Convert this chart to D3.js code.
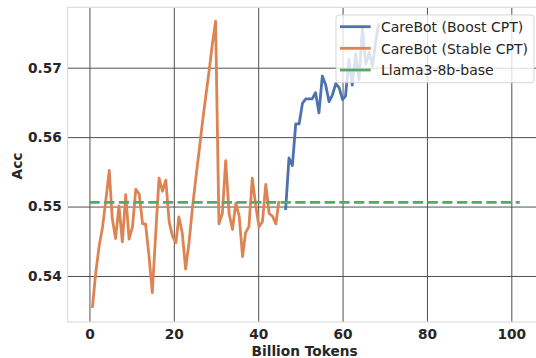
<!DOCTYPE html>
<html><head><meta charset="utf-8">
<script src="https://cdn.jsdelivr.net/npm/d3@7"></script>
<style>
body{margin:0;background:#fff}
svg{display:block}
text{font-family:"DejaVu Sans",sans-serif}
</style>
</head><body>
<svg id="chart" width="536" height="358"></svg>
<script>
// ---- data ----
const stableTokens = [0.7,1.5,2.3,3.1,3.9,4.7,5.4,6.2,7.0,7.8,8.6,9.4,10.2,11.0,11.8,12.6,13.3,14.1,14.9,15.7,16.5,17.3,18.1,18.9,19.7,20.5,21.2,22.0,22.8,23.6,24.4,25.2,26.0,26.8,27.6,28.4,29.1,29.9,30.7,31.5,32.3,33.1,33.9,34.7,35.5,36.3,37.0,37.8,38.6,39.4,40.2,41.0,41.8,42.6,43.4,44.2,44.9];
const stableAcc = [0.5354,0.5405,0.5443,0.5470,0.5510,0.5552,0.5483,0.5454,0.5501,0.5449,0.5517,0.5453,0.5471,0.5525,0.5518,0.5475,0.5475,0.5430,0.5376,0.5460,0.5541,0.5522,0.5538,0.5478,0.5457,0.5448,0.5485,0.5462,0.5410,0.5448,0.5497,0.5540,0.5580,0.5622,0.5660,0.5697,0.5732,0.5767,0.5475,0.5490,0.5566,0.5490,0.5467,0.5505,0.5486,0.5428,0.5462,0.5471,0.5541,0.5502,0.5471,0.5478,0.5532,0.5490,0.5486,0.5475,0.5508];
const boostTokens = [46.5,47.3,48.1,48.9,49.7,50.5,51.3,52.1,52.8,53.6,54.4,55.2,56.0,56.8,57.6,58.4,59.2,60.0,60.7,61.5,62.3,63.1,63.9,64.7,65.5,66.3,67.1,67.9,68.6];
const boostAcc = [0.5495,0.5570,0.5559,0.5619,0.5619,0.5649,0.5655,0.5655,0.5655,0.5664,0.5635,0.5688,0.5675,0.5651,0.5661,0.5677,0.5671,0.5654,0.5659,0.5712,0.5675,0.5720,0.5683,0.5757,0.5705,0.5722,0.5702,0.5740,0.5764];
const baseTokens = [0, 102];
const baseAcc = [0.5506, 0.5506];
const seriesNames = ["CareBot (Boost CPT)", "CareBot (Stable CPT)", "Llama3-8b-base"];
const seriesColors = ["#4C72B0", "#DD8452", "#55A868"];
const xTicks = [0, 20, 40, 60, 80, 100];
const yTicks = [0.54, 0.55, 0.56, 0.57];
const xTitle = "Billion Tokens";
const yTitle = "Acc";

// ---- layout ----
const L = 67.5, R = 541.7, T = 7.3, B = 322;
const svg = d3.select("#chart");
const x = d3.scaleLinear().domain([-5.2, 107.2]).range([L, R]);
const y = d3.scaleLinear().domain([0.53337, 0.5787]).range([B, T]);
const txt = "#262626";
const fs = 13.7;

// gridlines + tick labels
const gx = svg.append("g").attr("transform", `translate(0,${B})`)
  .call(d3.axisBottom(x).tickValues(xTicks).tickFormat(d3.format("d")).tickSize(-(B - T)).tickPadding(7.6));
const gy = svg.append("g").attr("transform", `translate(${L},0)`)
  .call(d3.axisLeft(y).tickValues(yTicks).tickFormat(d3.format(".2f")).tickSize(-(R - L)).tickPadding(5.8));
[gx, gy].forEach(g => {
  g.select(".domain").remove();
  g.selectAll(".tick line").attr("stroke", "#505050").attr("stroke-width", 1);
  g.selectAll(".tick text").attr("fill", txt).attr("font-size", fs).attr("font-weight", "bold")
    .attr("font-family", '"DejaVu Sans",sans-serif');
});

// frame
svg.append("rect").attr("x", L).attr("y", T).attr("width", R - L).attr("height", B - T)
  .attr("fill", "none").attr("stroke", "#dddddd").attr("stroke-width", 1.2);

const line = d3.line().x(d => x(d[0])).y(d => y(d[1]));
const lw = 2.8;
svg.append("path").datum(boostTokens.map((t, i) => [t, boostAcc[i]]))
  .attr("d", line).attr("fill", "none").attr("stroke", seriesColors[0]).attr("stroke-width", lw).attr("stroke-linejoin", "round");
svg.append("path").datum(stableTokens.map((t, i) => [t, stableAcc[i]]))
  .attr("d", line).attr("fill", "none").attr("stroke", seriesColors[1]).attr("stroke-width", lw).attr("stroke-linejoin", "round");
svg.append("path").datum(baseTokens.map((t, i) => [t, baseAcc[i]]))
  .attr("d", line).attr("fill", "none").attr("stroke", seriesColors[2]).attr("stroke-width", lw).attr("stroke-dasharray", "10.3,4.4");

// axis titles
svg.append("text").attr("x", (L + R) / 2).attr("y", 356).attr("text-anchor", "middle")
  .attr("font-size", fs).attr("font-weight", "bold").attr("fill", txt).text(xTitle);
svg.append("text").attr("transform", `translate(21.5,166) rotate(-90)`).attr("text-anchor", "middle")
  .attr("font-size", fs).attr("font-weight", "bold").attr("fill", txt).text(yTitle);

// legend
const lg = svg.append("g");
lg.append("rect").attr("x", 336).attr("y", 15).attr("width", 198).attr("height", 67.7).attr("rx", 3)
  .attr("fill", "#fff").attr("fill-opacity", 0.8).attr("stroke", "#cccccc").attr("stroke-opacity", 0.8);
const rows = [26.7, 48.3, 70];
seriesNames.forEach((n, i) => {
  lg.append("line").attr("x1", 340).attr("x2", 370.7).attr("y1", rows[i]).attr("y2", rows[i])
    .attr("stroke", seriesColors[i]).attr("stroke-width", lw);
  lg.append("text").attr("x", 381).attr("y", rows[i] + 5.2).attr("font-size", 14).attr("fill", txt).text(n);
});
</script>
</body></html>
